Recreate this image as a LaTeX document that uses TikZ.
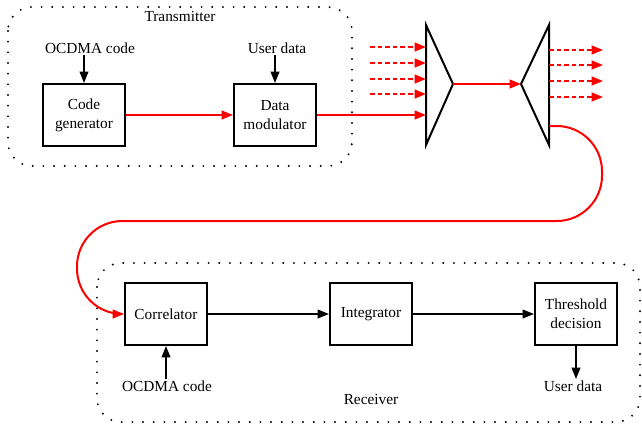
\documentclass[tikz,border=0pt]{standalone}
\usepackage{fontspec}
\setmainfont{Liberation Serif}
\usetikzlibrary{arrows.meta}
\definecolor{fibre}{RGB}{255, 0, 0}

\tikzset{
    blk/.style={draw, line width=1.5pt, minimum width=61.5pt, minimum height=46.5pt, align=center, inner sep=1pt},
    sig/.style={line width=1.3pt, -{Triangle[length=8.5pt, width=6.5pt]}},
    opt/.style={sig, fibre, line width=1.5pt},
    chan/.style={opt, dash pattern=on 3.5pt off 2.2pt},
    zone/.style={line width=1.6pt, line cap=round, dash pattern=on 0pt off 8pt, rounded corners=18pt},
    lbl/.style={inner sep=1pt}
}

\begin{document}
\begin{tikzpicture}[x=0.75pt, y=-0.75pt, font=\fontsize{11.5}{14.3}\selectfont]
        \useasboundingbox (0,0) rectangle (642,429);

        % 发射端
        \draw[zone] (8,7) rectangle (352,166);
        \node[lbl] (txlabel) at (180,16) {Transmitter};

        \node[blk] (cg) at (84,115) {Code\\generator};
        \node[blk] (dm) at (275,115) {Data\\modulator};
        \node[lbl] (txcode) at (90,48) {OCDMA code};
        \node[lbl] (txdata) at (277,48) {User data};
        \draw[sig] (txcode.south -| cg.north) -- (cg.north);
        \draw[sig] (txdata.south -| dm.north) -- (dm.north);
        \draw[opt] (cg.east) -- (dm.west);

        % 复用器 / 解复用器
        \coordinate (mxin) at (426,115);
        \coordinate (mx) at (453,84);
        \coordinate (dmx) at (521,84);
        \coordinate (dmxtap) at (549,126);
        \draw[line width=1.5pt, line join=miter] (426,25) -- (mx) -- (426,145) -- cycle;
        \draw[line width=1.5pt, line join=miter] (549,25) -- (dmx) -- (549,145) -- cycle;

        \foreach \y in {47, 63, 79, 94} {
            \coordinate (in\y) at (370,\y);
            \draw[chan] (in\y) -- (426,\y);
        }
        \foreach \y in {50, 65, 81, 97} {
            \coordinate (out\y) at (603,\y);
            \draw[chan] (549,\y) -- (out\y);
        }
        \draw[opt] (dm.east) -- (mxin);
        \draw[opt] (mx) -- (dmx);

        % 接收端
        \draw[zone] (97,263) rectangle (640,422);
        \node[lbl] (rxlabel) at (371,399) {Receiver};

        \node[blk] (corr) at (166,314) {Correlator};
        \node[blk] (integ) at (371,314) {Integrator};
        \node[blk] (thr) at (576,314) {Threshold\\decision};
        \node[lbl] (rxcode) at (167,386) {OCDMA code};
        \node[lbl] (rxdata) at (573,386) {User data};
        \draw[sig] (rxcode.north -| corr.south) -- (corr.south);
        \draw[sig] (thr.south) -- (rxdata.north -| thr.south);
        \draw[sig] (corr.east) -- (integ.west);
        \draw[sig] (integ.east) -- (thr.west);

        % 光纤回路
        \draw[opt, rounded corners=34pt] (dmxtap) -- (602,126) -- (602,221) -- (77,221) -- (77,314) -- (corr.west);

    \end{tikzpicture}
\end{document}
